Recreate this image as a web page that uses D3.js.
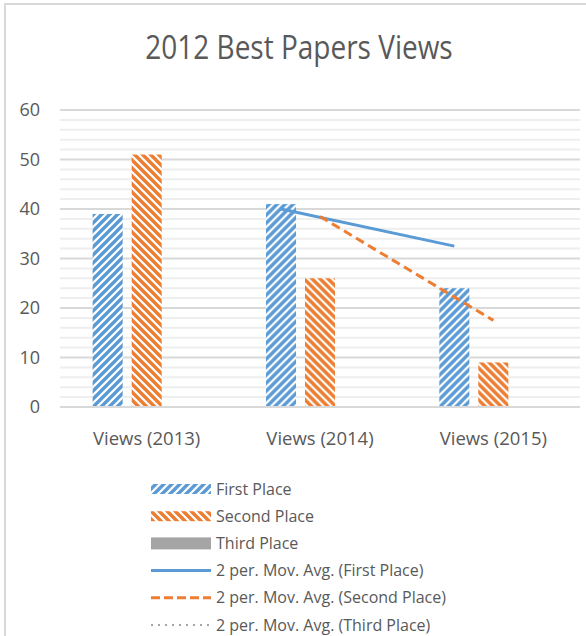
<!DOCTYPE html>
<html>
<head>
<meta charset="utf-8">
<script src="https://cdn.jsdelivr.net/npm/d3@7"></script>
<style>
  html, body { margin: 0; padding: 0; background: #fff; }
  svg { display: block; font-family: "Open Sans", "Liberation Sans", sans-serif; }
</style>
</head>
<body>
<svg id="chart" width="586" height="636"></svg>
<script>
// Chart data
const categories = ["Views (2013)", "Views (2014)", "Views (2015)"];
const seriesNames = ["First Place", "Second Place", "Third Place"];
const firstPlace = [39, 41, 24];
const secondPlace = [51, 26, 9];
const thirdPlace = [null, null, null];
const yTicks = [0, 10, 20, 30, 40, 50, 60];
const legendLabels = [
  "First Place", "Second Place", "Third Place",
  "2 per. Mov. Avg. (First Place)",
  "2 per. Mov. Avg. (Second Place)",
  "2 per. Mov. Avg. (Third Place)"
];

const seriesValues = [firstPlace, secondPlace, thirdPlace];
const colors = ["#5b9bd5", "#ed7d31", "#a5a5a5"];

const svg = d3.select("#chart");

// Outer chart frame
svg.append("path")
  .attr("d", "M5,637 V4 H590")
  .attr("fill", "none")
  .attr("stroke", "#d9d9d9")
  .attr("stroke-width", 2);

// Hatch patterns for the column fills
const defs = svg.append("defs");
function hatch(id, color, upward) {
  const p = defs.append("pattern")
    .attr("id", id)
    .attr("patternUnits", "userSpaceOnUse")
    .attr("width", 8).attr("height", 8);
  p.append("rect").attr("width", 8).attr("height", 8).attr("fill", "#fff");
  const d = upward
    ? "M-2,2 L2,-2 M0,8 L8,0 M6,10 L10,6"
    : "M-2,6 L2,10 M0,0 L8,8 M6,-2 L10,2";
  p.append("path").attr("d", d)
    .attr("stroke", color).attr("stroke-width", 3.4);
}
hatch("hatch-first", colors[0], true);
hatch("hatch-second", colors[1], false);
const fills = ["url(#hatch-first)", "url(#hatch-second)", colors[2]];

// Scales
const x0 = d3.scaleBand().domain(categories).range([60, 580]);
const x1 = d3.scaleBand().domain(seriesNames)
  .range([0, x0.bandwidth()]).paddingInner(0.23).paddingOuter(0.837);
const y = d3.scaleLinear().domain([0, 60]).range([407, 110]);

// Title (tall, condensed face)
svg.append("text")
  .attr("transform", "translate(299,59) scale(1,1.2)")
  .attr("text-anchor", "middle")
  .attr("font-size", 28)
  .attr("fill", "#595959")
  .text("2012 Best Papers Views");

// Gridlines: minor every 2, major every 10
const minor = d3.range(2, 60, 2).filter(v => v % 10 !== 0);
svg.append("g").selectAll("line").data(minor).join("line")
  .attr("x1", 60).attr("x2", 580)
  .attr("y1", d => y(d)).attr("y2", d => y(d))
  .attr("stroke", "#eeeeee").attr("stroke-width", 2);
svg.append("g").selectAll("line").data(yTicks.filter(v => v > 0)).join("line")
  .attr("x1", 60).attr("x2", 580)
  .attr("y1", d => y(d)).attr("y2", d => y(d))
  .attr("stroke", "#d9d9d9").attr("stroke-width", 2);

// Y axis labels
const yAxis = d3.axisLeft(y).tickValues(yTicks).tickSize(0).tickPadding(0);
const gy = svg.append("g").attr("transform", "translate(40,0)").call(yAxis);
gy.select(".domain").remove();
gy.selectAll("text")
  .attr("font-size", 18)
  .attr("font-family", "Open Sans, Liberation Sans, sans-serif")
  .attr("fill", "#595959");

// Columns
const groups = svg.append("g").selectAll("g").data(categories).join("g")
  .attr("transform", d => `translate(${x0(d)},0)`);
groups.selectAll("rect")
  .data((c, ci) => seriesNames.map((s, si) => ({ s, si, v: seriesValues[si][ci] })))
  .join("rect")
  .filter(d => d.v != null)
  .attr("x", d => x1(d.s))
  .attr("width", x1.bandwidth())
  .attr("y", d => y(d.v))
  .attr("height", d => y(0) - y(d.v))
  .attr("fill", d => fills[d.si]);

// X axis line and labels
svg.append("line")
  .attr("x1", 60).attr("x2", 580)
  .attr("y1", y(0)).attr("y2", y(0))
  .attr("stroke", "#d9d9d9").attr("stroke-width", 2);
const xAxis = d3.axisBottom(x0).tickSize(0).tickPadding(0);
const gx = svg.append("g").attr("transform", `translate(0,${y(0)})`).call(xAxis);
gx.select(".domain").remove();
gx.selectAll("text")
  .attr("dy", 0).attr("y", 38)
  .attr("font-size", 18.5)
  .attr("font-family", "Open Sans, Liberation Sans, sans-serif")
  .attr("fill", "#595959");

// 2-period moving averages, placed at each series' column centre
const dashes = [null, "9,5", "2,5"];
seriesValues.forEach((vals, si) => {
  const pts = [];
  for (let i = 1; i < vals.length; i++) {
    if (vals[i] == null || vals[i - 1] == null) continue;
    pts.push({ c: categories[i], v: (vals[i] + vals[i - 1]) / 2 });
  }
  if (pts.length < 2) return;
  const line = d3.line()
    .x(d => x0(d.c) + x1(seriesNames[si]) + x1.bandwidth() / 2)
    .y(d => y(d.v));
  svg.append("path").datum(pts)
    .attr("d", line)
    .attr("fill", "none")
    .attr("stroke", colors[si])
    .attr("stroke-width", 3)
    .attr("stroke-dasharray", dashes[si]);
});

// Legend
const legendDashes = [null, "9,4", "2,5"];
const legend = svg.append("g");
const rowY = d3.scalePoint().domain(legendLabels).range([489, 625]);
legendLabels.forEach((label, i) => {
  const cy = rowY(label);
  if (i < 3) {
    legend.append("rect")
      .attr("x", 151).attr("width", 60)
      .attr("y", i < 2 ? cy - 5 : cy - 6)
      .attr("height", i < 2 ? 10 : 12)
      .attr("fill", fills[i]);
  } else {
    legend.append("line")
      .attr("x1", 151).attr("x2", 211)
      .attr("y1", cy).attr("y2", cy)
      .attr("stroke", colors[i - 3])
      .attr("stroke-width", i === 5 ? 2 : 3)
      .attr("stroke-dasharray", legendDashes[i - 3]);
  }
  legend.append("text")
    .attr("x", 216).attr("y", cy)
    .attr("dy", "0.35em")
    .attr("font-size", 16)
    .attr("fill", "#595959")
    .text(label);
});
</script>
</body>
</html>
